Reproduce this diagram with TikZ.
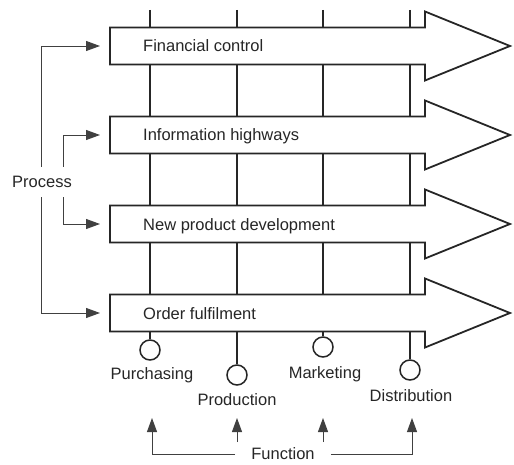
\documentclass[tikz,border=0pt]{standalone}
\usepackage{fontspec}
\setmainfont{Liberation Sans}
\usetikzlibrary{arrows.meta}
\tikzset{
  procarrow/.style={draw=black!85, line width=1.8pt, fill=white, line join=miter},
  gridline/.style={draw=black!85, line width=1.5pt},
  fcircle/.style={circle, draw=black!85, line width=1.5pt, fill=white, minimum size=20pt, inner sep=0pt},
  conn/.style={draw=black!75, line width=0.9pt, -{Triangle[length=14pt,width=10pt]}},
  lbl/.style={font=\fontsize{16.5}{19}\selectfont, text=black!85, inner sep=0pt},
}
\begin{document}
\begin{tikzpicture}[x=1pt,y=-1pt]
\useasboundingbox (0,0) rectangle (514,465);
% coordinates
\coordinate (t1) at (150,10);
\coordinate (t2) at (237,10);
\coordinate (t3) at (323,10);
\coordinate (t4) at (410,10);
\node[fcircle] (c1) at (150,350) {};
\node[fcircle] (c2) at (237,375) {};
\node[fcircle] (c3) at (323,347) {};
\node[fcircle] (c4) at (410,370) {};
% vertical function lines
\draw[gridline] (t1) -- (c1);
\draw[gridline] (t2) -- (c2);
\draw[gridline] (t3) -- (c3);
\draw[gridline] (t4) -- (c4);
% process arrows
\foreach \c in {46,135,224,313}{
  \draw[procarrow] (110,\c-18.5) -- (425,\c-18.5) -- (425,\c-34.5) -- (510,\c)
    -- (425,\c+34.5) -- (425,\c+18.5) -- (110,\c+18.5) -- cycle;
}
\node[lbl, anchor=base west] (p1) at (143,52) {Financial control};
\node[lbl, anchor=base west] (p2) at (143,141) {Information highways};
\node[lbl, anchor=base west] (p3) at (143,230) {New product development};
\node[lbl, anchor=base west] (p4) at (143,319) {Order fulfilment};
% function labels
\node[lbl] (l1) at (152,375) {Purchasing};
\node[lbl] (l2) at (237,400) {Production};
\node[lbl] (l3) at (325,374) {Marketing};
\node[lbl] (l4) at (411,396) {Distribution};
% Process
\node[lbl, minimum height=30pt] (proc) at (42,182) {Process};
\coordinate (pl) at (41,0);
\coordinate (pr) at (63,0);
\coordinate (e1) at (100,46);
\coordinate (e2) at (100,135);
\coordinate (e3) at (100,224);
\coordinate (e4) at (100,313);
\draw[conn] (proc.north -| pl) |- (e1);
\draw[conn] (proc.south -| pl) |- (e4);
\draw[conn] (proc.north -| pr) |- (e2);
\draw[conn] (proc.south -| pr) |- (e3);
% Function
\node[lbl, inner xsep=16pt] (func) at (283,454) {Function};
\coordinate (f1) at (152,418);
\coordinate (f2) at (237,418);
\coordinate (f3) at (323,418);
\coordinate (f4) at (412,418);
\coordinate (g2) at (237,442);
\coordinate (g3) at (323,442);
\draw[conn] (func.west) -| (f1);
\draw[conn] (func.east) -| (f4);
\draw[conn] (g2) -- (f2);
\draw[conn] (g3) -- (f3);
\end{tikzpicture}
\end{document}
